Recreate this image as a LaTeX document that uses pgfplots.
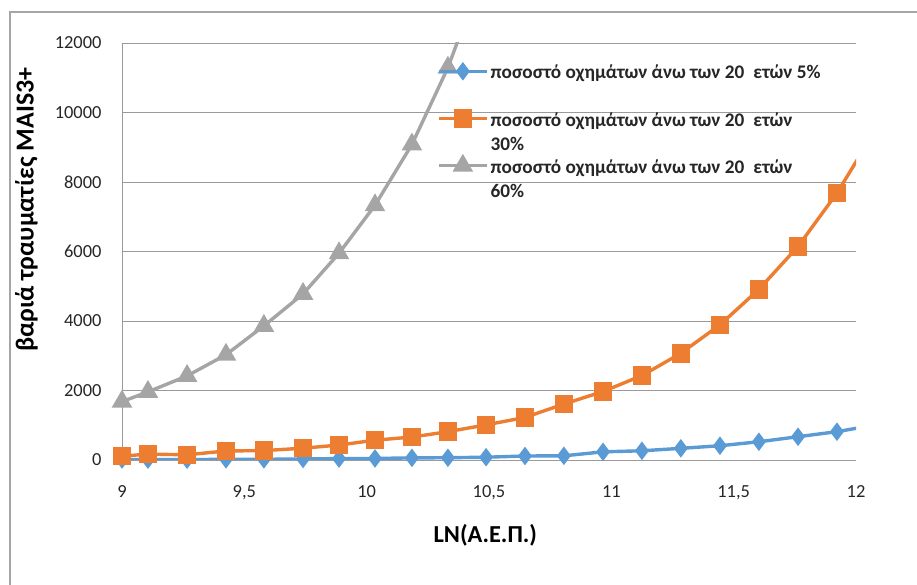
\documentclass[border=0pt]{standalone}
\usepackage{pgfplots}
\pgfplotsset{compat=1.18}
\usepackage{fontspec}
\setmainfont{Carlito}
\definecolor{sblue}{HTML}{5B9BD5}
\definecolor{sorange}{HTML}{ED7D31}
\definecolor{sgray}{HTML}{A5A5A5}
\definecolor{gridc}{HTML}{9A9A9A}
\newcommand{\lgd}[2]{\begin{tabular}[t]{@{}l@{}}#1\\#2\end{tabular}}
\begin{document}
\begin{tikzpicture}[x=1bp,y=1bp]
\path[use as bounding box] (0,0) rectangle (917,585);
\draw[gray!70, line width=1.2bp] (10,0) -- (10,573) -- (917,573);
\begin{axis}[
  at={(122bp,125bp)}, anchor=south west,
  width=734bp, height=417bp, scale only axis,
  xmin=9, xmax=12, ymin=0, ymax=12000,
  xtick={9,9.5,...,12}, ytick={0,2000,...,12000},
  /pgf/number format/use comma,
  /pgf/number format/1000 sep={},
  /pgf/number format/assume math mode=true,
  scaled ticks=false,
  axis line style={draw=none},
  ymajorgrids, grid style={gridc, line width=0.9bp},
  major tick length=0pt,
  tick label style={font=\fontsize{18.5}{20}\selectfont, text=black!85},
  xticklabel style={yshift=-22bp},
  yticklabel style={xshift=-17bp},
  xlabel={\textbf{LN(Α.Ε.Π.)}},
  xlabel style={font=\fontsize{24.5}{26}\selectfont, at={(axis description cs:0.495,-0.18)}, anchor=center},
  ylabel={\textbf{βαριά τραυματίες MAIS3+}},
  ylabel style={font=\fontsize{26}{28}\selectfont, at={(axis description cs:-0.13,0.6)}, anchor=center},
  clip=true,
  clip mode=individual,
  legend style={at={(0.425,0.964)}, anchor=north west, draw=none, fill=none,
    font=\bfseries\fontsize{19.3}{24}\selectfont, text=black!85,
    row sep=25bp, cells={anchor=west}},
  legend cell align=left,
  legend image code/.code={\draw[mark repeat=2,mark phase=2,#1] plot coordinates {(0bp,0bp) (24bp,0bp) (48bp,0bp)};},
]
\draw[gridc, line width=1bp] (axis cs:9,0) -- (axis cs:9,12000);
\addplot[sblue, line width=3.4bp, mark=diamond*, mark size=6.5bp] coordinates {
(9.000,15) (9.106,10) (9.266,10) (9.425,20) (9.580,20) (9.740,30) (9.887,40)
(10.034,45) (10.185,60) (10.332,65) (10.488,80) (10.647,115) (10.806,120)
(10.966,235) (11.125,265) (11.284,335) (11.444,410) (11.603,525) (11.763,670)
(11.922,815) (12.08,1010)};
\addlegendentry{\lgd{ποσοστό οχημάτων άνω των 20\hspace{0.25em} ετών 5\%}{}}
\addplot[sorange, line width=3.4bp, mark=square*, mark size=7.5bp] coordinates {
(9.000,110) (9.106,170) (9.266,150) (9.425,260) (9.580,270) (9.740,340) (9.887,430)
(10.034,570) (10.185,660) (10.332,815) (10.488,1010) (10.647,1225) (10.806,1610)
(10.966,1970) (11.125,2430) (11.284,3070) (11.444,3890) (11.603,4910) (11.763,6145)
(11.922,7680) (12.08,9500)};
\addlegendentry{\lgd{ποσοστό οχημάτων άνω των 20\hspace{0.25em} ετών}{30\%}}
\addplot[sgray, line width=3.4bp, mark=triangle*, mark size=8.5bp] coordinates {
(9.000,1680) (9.106,1960) (9.266,2420) (9.425,3030) (9.580,3860) (9.740,4780)
(9.887,5950) (10.034,7330) (10.185,9080) (10.332,11290) (10.488,14250)};
\addlegendentry{\lgd{ποσοστό οχημάτων άνω των 20\hspace{0.25em} ετών}{60\%}}
\end{axis}
\end{tikzpicture}
\end{document}
